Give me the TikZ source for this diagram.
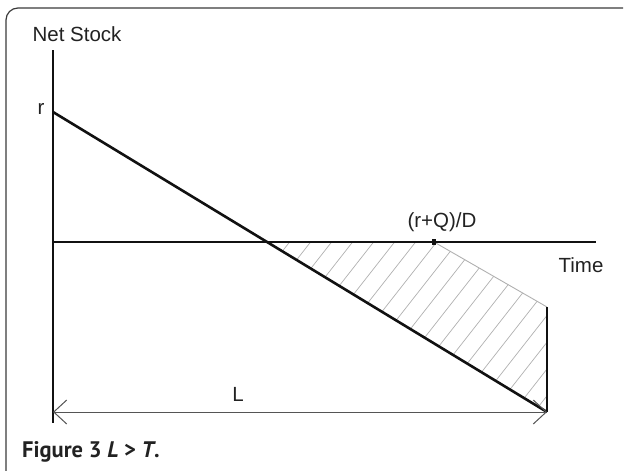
\documentclass[tikz,border=0pt]{standalone}
\usepackage{fontspec}
\setmainfont{Liberation Sans}
\newfontfamily\capfont{PT Sans}
\usetikzlibrary{arrows.meta, positioning, calc}
\definecolor{inkline}{HTML}{111111}
\definecolor{inkdim}{HTML}{555555}
\definecolor{inkhatch}{HTML}{B0B0B0}
\definecolor{inkframe}{HTML}{3A3A3A}
\definecolor{inktext}{HTML}{222222}

\begin{document}
\begin{tikzpicture}[x=1pt, y=-1pt, font=\fontsize{20.5}{24}\selectfont,
    axisline/.style={draw=inkline, line width=2.6pt},
    hatchline/.style={draw=inkhatch, line width=0.7pt},
    lbl/.style={text=inktext, inner sep=0pt}]
  \useasboundingbox (0,0) rectangle (624,471);
  \draw[inkframe, line width=1.2pt, rounded corners=12pt] (623,8) -- (6,8) -- (6,486) -- (40,486);
  % points of the plot
  \coordinate (ytop) at (53,50);
  \coordinate (ybot) at (53,423);
  \coordinate (rpt) at (53,112);
  \coordinate (xend) at (596,242);
  \coordinate (cross) at (267,242);
  \coordinate (tick) at (434,242);
  \coordinate (corner) at (547,307);
  \coordinate (lstart) at (53,412);
  \coordinate (lend) at (547,412);
  % hatched area
  \begin{scope}
    \clip (cross) -- (tick) -- (corner) -- (lend) -- cycle;
    \foreach \k in {0,...,22}
      \draw[hatchline] ($(150,420)+(\k*21,0)$) -- ++(160,-204);
  \end{scope}
  \draw[hatchline, line width=0.9pt] (tick) -- (corner);
  % axes and lines
  \draw[axisline] (ytop) -- (ybot);
  \draw[axisline, line width=2.2pt] (ytop |- xend) -- (xend);
  \draw[axisline] (rpt) -- (lend);
  \draw[axisline] (corner) -- (lend);
  \fill[inkline] ($(tick)+(-2,-2.6)$) rectangle ($(tick)+(2,2.6)$);
  \draw[inkdim, line width=1pt,
        {Straight Barb[length=13pt,width=24pt]}-{Straight Barb[length=13pt,width=24pt]}]
        (lstart) -- (lend);
  % labels
  \node[lbl] (netstock) at (77,34) {Net Stock};
  \node[lbl] (rlbl) at (41,109) {r};
  \node[lbl] (rqd) at (442,222) {(r+Q)/D};
  \node[lbl] (timelbl) at (581,265) {Time};
  \node[lbl] (llbl) at (238,394) {L};
  \node[lbl, anchor=base west, font=\capfont\fontsize{22.5}{26}\selectfont]
    (caption) at (22,457) {\textbf{Figure 3 \textit{L} {>} \textit{T}.}};
\end{tikzpicture}
\end{document}
